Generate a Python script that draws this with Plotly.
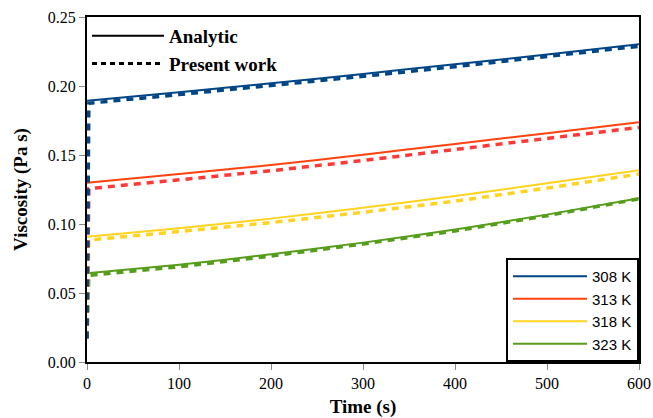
import plotly.graph_objects as go

# Time (s)
t = [0, 100, 200, 300, 400, 500, 600]
t_pw = [0, 2, 100, 200, 300, 400, 500, 600]

labels = ["308 K", "313 K", "318 K", "323 K"]
colors_solid = ["#004586", "#ff420e", "#ffd320", "#579d1c"]
colors_dash = ["#004586", "#ff3838", "#ffd320", "#579d1c"]

# Analytic viscosity (Pa s)
an_308 = [0.1893, 0.1955, 0.2020, 0.2087, 0.2158, 0.2228, 0.2302]
an_313 = [0.1299, 0.1362, 0.1428, 0.1502, 0.1580, 0.1658, 0.1737]
an_318 = [0.0908, 0.0970, 0.1039, 0.1118, 0.1203, 0.1295, 0.1390]
an_323 = [0.0643, 0.0705, 0.0780, 0.0865, 0.0960, 0.1068, 0.1187]

# Present work viscosity (Pa s)
pw_308 = [0.017, 0.1875, 0.1938, 0.2003, 0.2070, 0.2140, 0.2212, 0.2288]
pw_313 = [0.017, 0.1256, 0.1320, 0.1386, 0.1460, 0.1540, 0.1617, 0.1700]
pw_318 = [0.017, 0.0884, 0.0945, 0.1010, 0.1085, 0.1165, 0.1260, 0.1362]
pw_323 = [0.017, 0.0628, 0.0690, 0.0768, 0.0855, 0.0950, 0.1060, 0.1182]

analytic = [an_308, an_313, an_318, an_323]
present = [pw_308, pw_313, pw_318, pw_323]

fig = go.Figure()

for lab, col, ys in zip(labels, colors_solid, analytic):
    fig.add_trace(go.Scatter(x=t, y=ys, mode="lines", name=lab,
                             line=dict(color=col, width=2, shape="spline", smoothing=0.6),
                             legend="legend2"))

for lab, col, ys in reversed(list(zip(labels, colors_dash, present))):
    fig.add_trace(go.Scatter(x=t_pw, y=ys, mode="lines", name=lab + " (present)",
                             line=dict(color=col, width=3.5, dash="7px,6px"),
                             showlegend=False))

# style legend entries
fig.add_trace(go.Scatter(x=[None], y=[None], mode="lines", name="Analytic",
                         line=dict(color="black", width=2), legend="legend"))
fig.add_trace(go.Scatter(x=[None], y=[None], mode="lines", name="Present work",
                         line=dict(color="black", width=3, dash="5px,4px"), legend="legend"))

serif = "Liberation Serif"
fig.update_layout(
    width=653, height=418,
    margin=dict(l=87, r=14, t=17, b=56, autoexpand=False),
    paper_bgcolor="white", plot_bgcolor="white",
    font=dict(family=serif, size=16, color="black"),
    legend=dict(x=0.0, y=1.0, xanchor="left", yanchor="top",
                bgcolor="rgba(0,0,0,0)", borderwidth=0,
                font=dict(family=serif, size=19, color="black", weight="bold"),
                itemwidth=72, tracegroupgap=0),
    legend2=dict(x=1.0, y=0.0, xanchor="right", yanchor="bottom",
                 bgcolor="white", bordercolor="black", borderwidth=2,
                 font=dict(family="Liberation Sans", size=15, color="black"),
                 itemwidth=74),
    showlegend=True,
)
fig.update_xaxes(range=[0, 600], dtick=100, tick0=0, automargin=False,
                 showline=True, linecolor="black", linewidth=2, mirror=True,
                 ticks="outside", ticklen=6, tickcolor="#888888",
                 showgrid=False, zeroline=False,
                 title=dict(text="<b>Time (s)</b>", font=dict(family=serif, size=19), standoff=9),
                 tickfont=dict(family=serif, size=16))
fig.update_yaxes(range=[0, 0.25], dtick=0.05, tick0=0, tickformat=".2f", automargin=False,
                 showline=True, linecolor="black", linewidth=2, mirror=True,
                 ticks="outside", ticklen=6, tickcolor="#888888",
                 showgrid=False, zeroline=False,
                 title=dict(text="<b>Viscosity (Pa s)</b>", font=dict(family=serif, size=19), standoff=15),
                 tickfont=dict(family=serif, size=16))

fig.write_html("out.html")
